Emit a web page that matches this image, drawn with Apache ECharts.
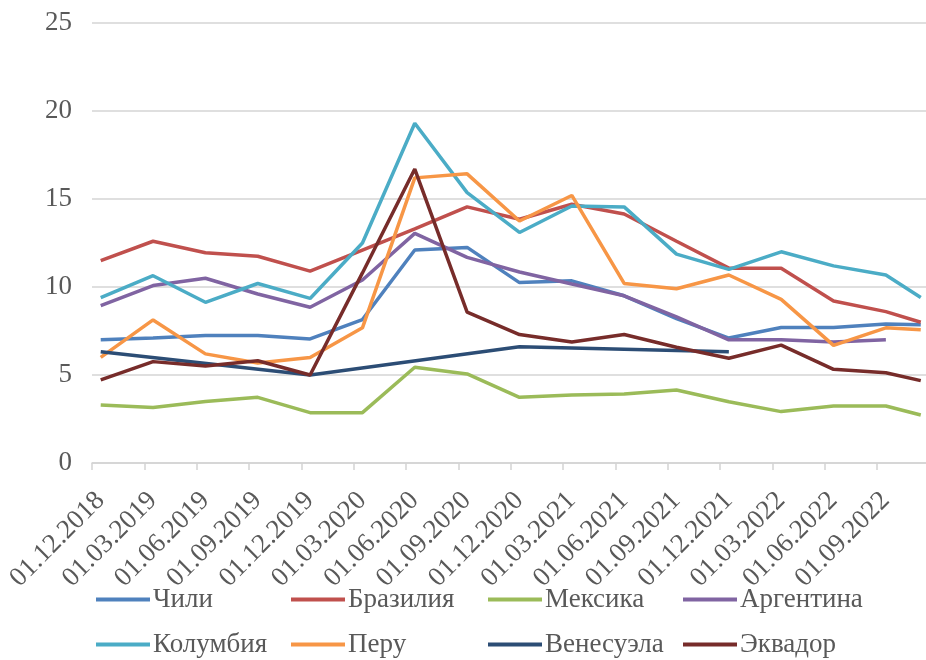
<!DOCTYPE html>
<html>
<head>
<meta charset="utf-8">
<script src="https://cdn.jsdelivr.net/npm/echarts@6/dist/echarts.min.js"></script>
<style>html,body{margin:0;padding:0;background:#fff}#c{width:926px;height:660px}</style>
</head>
<body>
<div id="c"></div>
<script>
// Data point dates (month.year)
const pointDates = ['12.2018','03.2019','06.2019','09.2019','12.2019','03.2020','06.2020','09.2020','12.2020','03.2021','06.2021','09.2021','12.2021','03.2022','06.2022','09.2022','11.2022'];
// Tick labels
const tickLabels = ['01.12.2018','01.03.2019','01.06.2019','01.09.2019','01.12.2019','01.03.2020','01.06.2020','01.09.2020','01.12.2020','01.03.2021','01.06.2021','01.09.2021','01.12.2021','01.03.2022','01.06.2022','01.09.2022'];
const yTicks = [0, 5, 10, 15, 20, 25];

const chile     = [7.0, 7.1, 7.25, 7.25, 7.05, 8.15, 12.1, 12.25, 10.25, 10.35, 9.5, 8.2, 7.1, 7.7, 7.7, 7.9, 7.85];
const brazil    = [11.5, 12.6, 11.95, 11.75, 10.9, 12.1, 13.3, 14.55, 13.85, 14.7, 14.15, 12.6, 11.07, 11.07, 9.2, 8.6, 8.0];
const mexico    = [3.3, 3.15, 3.5, 3.73, 2.86, 2.86, 5.44, 5.06, 3.73, 3.86, 3.92, 4.15, 3.48, 2.92, 3.24, 3.24, 2.73];
const argentina = [8.94, 10.08, 10.5, 9.6, 8.85, 10.4, 13.05, 11.68, 10.85, 10.17, 9.5, 8.3, 7.0, 7.0, 6.87, 7.0, null];
const colombia  = [9.4, 10.64, 9.13, 10.2, 9.35, 12.5, 19.3, 15.36, 13.1, 14.6, 14.55, 11.87, 11.0, 12.0, 11.2, 10.68, 9.4];
const peru      = [6.0, 8.13, 6.2, 5.68, 6.0, 7.68, 16.2, 16.43, 13.75, 15.2, 10.2, 9.9, 10.68, 9.3, 6.68, 7.68, 7.57];
const venezuela = [6.32, null, null, null, 5.0, null, null, null, 6.61, null, null, null, 6.32, null, null, null, null];
const ecuador   = [4.72, 5.76, 5.51, 5.81, 5.0, 10.8, 16.7, 8.57, 7.3, 6.87, 7.3, 6.58, 5.95, 6.7, 5.32, 5.13, 4.68];

const names  = ['Чили','Бразилия','Мексика','Аргентина','Колумбия','Перу','Венесуэла','Эквадор'];
const values = [chile, brazil, mexico, argentina, colombia, peru, venezuela, ecuador];
const colors = ['#4F81BD','#C0504D','#9BBB59','#8064A2','#4BACC6','#F79646','#2C4D75','#772C2A'];

const FONT = "'Liberation Serif','Times New Roman',serif";
const startY = 2018, startM = 12;
function monthIndexFromMY(s){ const [m,y] = s.split('.').map(Number); return (y - startY)*12 + (m - startM); }
function monthIndexFromLabel(s){ const p = s.split('.').map(Number); return (p[2]-startY)*12 + (p[1]-startM); }
const xs = pointDates.map(d => monthIndexFromMY(d) + 0.5);
const tickPos = tickLabels.map(monthIndexFromLabel);
const labelByPos = {}; tickLabels.forEach((l,i)=>{ labelByPos[tickPos[i]] = l; });

const legendPos = [[96,586],[291,586],[488,586],[683,586],[96,631],[291,631],[488,631],[683,631]];

const chart = echarts.init(document.getElementById('c'), null, {renderer:'canvas'});
chart.setOption({
  animation: false,
  backgroundColor: '#fff',
  grid: { left: 92, right: 0, top: 23, bottom: 197, containLabel: false },
  xAxis: {
    type: 'value', min: 0, max: 47.8, interval: 3,
    axisLine: { show: true, lineStyle: { color: '#d4d4d4', width: 1.5 } },
    axisTick: { show: true, length: 7, lineStyle: { color: '#d4d4d4', width: 1.5 }, customValues: tickPos },
    splitLine: { show: false },
    axisLabel: {
      customValues: tickPos,
      rotate: 45, margin: 42,
      padding: [0, -12, 0, 0],
      color: '#595959', fontFamily: FONT, fontSize: 27,
      formatter: v => labelByPos[Math.round(v)] || ''
    }
  },
  yAxis: {
    type: 'value', min: 0, max: 25, interval: 5,
    axisLine: { show: false }, axisTick: { show: false },
    splitLine: { show: true, lineStyle: { color: '#d4d4d4', width: 1.5 } },
    axisLabel: { color: '#595959', fontFamily: FONT, fontSize: 27, margin: 20,
      formatter: v => yTicks.includes(v) ? String(v) : '' }
  },
  legend: names.map((n,i)=>({
    data: [n], left: legendPos[i][0], top: legendPos[i][1], padding: 0,
    icon: 'rect', itemWidth: 54, itemHeight: 4, itemGap: 0,
    textStyle: { color: '#595959', fontFamily: FONT, fontSize: 27, padding: [0,0,0,-2] }
  })),
  series: names.map((n,i)=>({
    name: n, type: 'line',
    data: values[i].map((v,k)=>[xs[k], v]),
    connectNulls: true,
    showSymbol: false, symbol: 'none',
    lineStyle: { color: colors[i], width: 3.5 },
    itemStyle: { color: colors[i] },
    emphasis: { disabled: true }
  }))
});
</script>
</body>
</html>
